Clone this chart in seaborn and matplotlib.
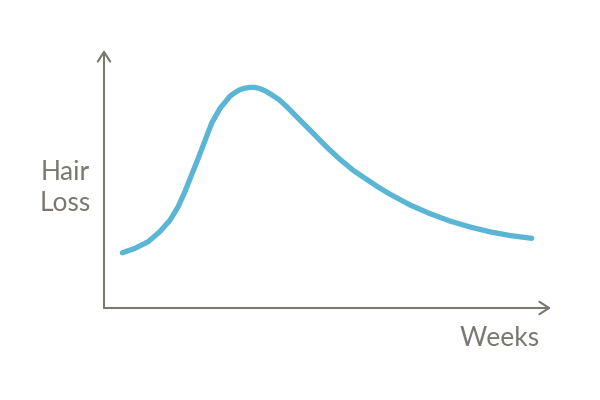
import numpy as np
import pandas as pd
import matplotlib
matplotlib.use("Agg")
import matplotlib.pyplot as plt
import seaborn as sns

# values
weeks = [0.41, 0.69, 0.99, 1.25, 1.48, 1.66, 1.81, 1.96, 2.11, 2.26, 2.41, 2.60,
         2.82, 2.93, 3.04, 3.15, 3.27, 3.38, 3.49, 3.60, 3.71, 3.92, 4.09, 4.38,
         4.68, 4.98, 5.28, 5.58, 5.88, 6.14, 6.40, 6.85, 7.29, 7.74, 8.19, 8.64,
         9.08, 9.57]
hair_loss = [2.14, 2.31, 2.57, 2.96, 3.41, 3.93, 4.51, 5.16, 5.81, 6.49, 7.17, 7.75,
             8.21, 8.35, 8.46, 8.52, 8.55, 8.55, 8.50, 8.42, 8.31, 8.07, 7.80, 7.29,
             6.77, 6.24, 5.76, 5.33, 4.98, 4.68, 4.41, 3.99, 3.66, 3.37, 3.14, 2.95,
             2.81, 2.70]

x_label = "Weeks"
y_label = "Hair\nLoss"

line_color = "#5bb5d5"
axis_color = "#7b7771"

sns.set_style("white")
plt.rcParams['font.family'] = ['Lato', 'DejaVu Sans']

df = pd.DataFrame({"weeks": weeks, "hair_loss": hair_loss})

fig = plt.figure(figsize=(6, 4), dpi=100)
ax = fig.add_axes([104 / 600, 92 / 400, 447 / 600, 258 / 400])

sns.lineplot(data=df, x="weeks", y="hair_loss", ax=ax, color=line_color,
             linewidth=3.8, solid_capstyle="round", solid_joinstyle="round")

ax.set_xlim(0, 10)
ax.set_ylim(0, 10)
ax.set_xticks([])
ax.set_yticks([])
ax.set_xlabel("")
ax.set_ylabel("")
for s in ax.spines.values():
    s.set_visible(False)

chevron = dict(arrowstyle="->,head_length=0.7,head_width=0.45", color=axis_color, lw=1.5,
               shrinkA=0, shrinkB=0)
ax.annotate("", xy=(0, 1), xytext=(0, 0), xycoords="axes fraction",
            arrowprops=chevron, annotation_clip=False)
ax.annotate("", xy=(1, 0), xytext=(0, 0), xycoords="axes fraction",
            arrowprops=chevron, annotation_clip=False)

fig.text(65 / 600, 1 - 188 / 400, y_label, ha="center", va="center",
         fontsize=19, color=axis_color, linespacing=1.3)
fig.text(500 / 600, 1 - 338 / 400, x_label, ha="center", va="center",
         fontsize=19, color=axis_color)

fig.savefig("out.png", dpi=100, facecolor="white")
